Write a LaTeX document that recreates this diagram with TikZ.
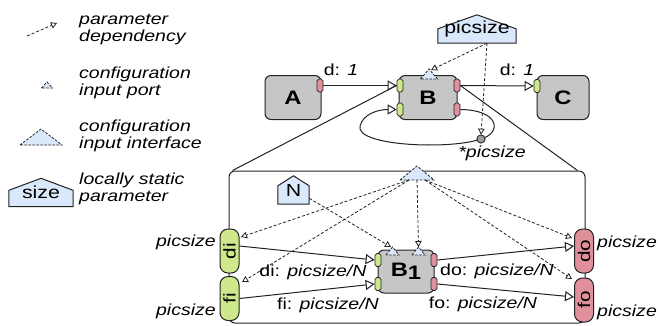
\documentclass[tikz,border=0pt]{standalone}
\usepackage{fontspec}
\setmainfont[FakeStretch=1.22]{Liberation Sans}
\usetikzlibrary{arrows.meta,calc}
\pgfdeclarelayer{bg}
\pgfsetlayers{bg,main}
\definecolor{linec}{HTML}{222222}
\definecolor{boxgray}{HTML}{C6C6C6}
\definecolor{portgreen}{HTML}{CDE98A}
\definecolor{portred}{HTML}{E0909A}
\definecolor{cfgblue}{HTML}{DAE8FC}
\definecolor{dotgray}{HTML}{9C9C9C}
\tikzset{
  block/.style={draw=linec, fill=boxgray, line width=1pt, rounded corners=6pt,
    minimum width=#1, minimum height=44pt, inner sep=0pt,
    font=\fontsize{19.5}{20}\selectfont\bfseries},
  port/.style={draw=linec, fill=#1, line width=0.7pt, rounded corners=1.8pt,
    minimum width=6pt, minimum height=13pt, inner sep=0pt},
  ioport/.style={draw=linec, fill=#1, line width=1pt, rounded corners=8pt,
    minimum width=19pt, minimum height=44pt, inner sep=0pt,
    font=\fontsize{17}{17}\selectfont},
  plain/.style={draw=linec, line width=1pt},
  flow/.style={draw=linec, line width=1pt, -{Triangle[length=9pt,width=10pt,fill=white]}},
  dep/.style={draw=linec, line width=0.8pt, dash pattern=on 3pt off 2pt,
    -{Triangle[open,length=6pt,width=6.5pt]}},
  cfgline/.style={draw=linec, line width=0.8pt, dash pattern=on 2.5pt off 1.5pt, fill=cfgblue},
  houseline/.style={draw=linec, line width=1pt, fill=cfgblue},
  housebox/.style={minimum width=#1, minimum height=28pt, inner sep=0pt,
    font=\fontsize{17.5}{17}\selectfont},
  lbl/.style={inner sep=0pt, font=\fontsize{16}{17}\selectfont},
  legend/.style={align=left, anchor=west, inner sep=0pt,
    font=\fontsize{16}{17}\selectfont\itshape},
  pics/cfgtri/.style 2 args={code={\path[cfgline] (-#1/2,0) -- (0,-#2) -- (#1/2,0) -- cycle;}},
}
\begin{document}
\begin{tikzpicture}[x=1pt,y=-1pt]
\useasboundingbox (0,0) rectangle (658,325);

% ---------- legend ----------
\coordinate (lgs) at (27,36);
\coordinate (lge) at (57,23);
\draw[dep] (lgs) -- (lge);
\node[legend] (lg1) at (79,29) {parameter\\dependency};
\pic at (47,88) {cfgtri={11}{6}};
\node[legend] (lg2) at (79,83) {configuration\\input port};
\pic at (41,145) {cfgtri={42}{16}};
\node[legend] (lg3) at (79,136) {configuration\\input interface};
\node[housebox=64pt] (lgsize) at (41,192.5) {size};
\node[legend] (lg4) at (79,189) {locally static\\parameter};

% ---------- top level graph ----------
\node[block=56pt] (A) at (293,97.5) {A};
\node[block=58pt] (B) at (428,97.5) {B};
\node[block=52pt] (C) at (563,97.5) {C};

\node[port=portred]   (aout)  at (320,85.5) {};
\node[port=portgreen] (bin1)  at (400,85.5) {};
\node[port=portgreen] (bin2)  at (400,109.5) {};
\node[port=portred]   (bout1) at (457,85.5) {};
\node[port=portred]   (bout2) at (457,109.5) {};
\node[port=portgreen] (cin)   at (537,86) {};

\pic at (429,79) {cfgtri={17}{10}};
\coordinate (bcfg) at (431,70);

\node[housebox=78pt] (ps) at (477,29) {\raisebox{-2.5pt}{picsize}};
\coordinate (psfoot) at ([xshift=10pt]ps.south);

\node[circle, draw=linec, fill=dotgray, line width=0.7pt, minimum size=8pt, inner sep=0pt] (dot) at (481,139) {};

\draw[flow] (aout.east) -- (bin1.west);
\draw[flow] (bout1.east) -- (cin.west);
\node[lbl] (dab) at (341,70) {d: \textit{1}};
\node[lbl] (dbc) at (517,70) {d: \textit{1}};

% self loop through the rate dot
\draw[flow] (bout2.east) .. controls (500,110) and (502,133) .. (dot.center)
  .. controls (450,150) and (355,146) .. (360,126)
  .. controls (363,114) and (378,109.5) .. (bin2.west);
\node[circle, draw=linec, fill=dotgray, line width=0.7pt, minimum size=8pt, inner sep=0pt] at (dot) {};
\node[lbl] (star) at (492,153) {\textit{*picsize}};

\draw[dep] (psfoot) -- (bcfg);
\draw[dep] (psfoot) -- (dot.north);

% ---------- refinement of B ----------
\node[draw=linec, line width=1pt, rounded corners=6pt, minimum width=356pt,
  minimum height=152pt, inner sep=0pt] (blk) at (407,247) {};

\pic at (417,180) {cfgtri={34}{14}};
\coordinate (ifcL) at (409,180);
\coordinate (ifcM) at (417,180);
\coordinate (ifcR) at (425,180);

\node[housebox=31pt] (np) at (293.5,190) {N};

\node[ioport=portgreen] (pdi) at (229.5,251) {\rotatebox{90}{di}};
\node[ioport=portgreen] (pfi) at (229.5,298.5) {\rotatebox{90}{fi}};
\node[ioport=portred]   (pdo) at (584,251) {\rotatebox{90}{do}};
\node[ioport=portred]   (pfo) at (584,300) {\rotatebox{90}{fo}};

\node[block=56pt, minimum height=43pt] (B1) at (406,271.5) {B\raisebox{-3.5pt}{1}};
\node[port=portgreen] (b1i1) at (378,260) {};
\node[port=portgreen] (b1i2) at (378,284) {};
\node[port=portred]   (b1o1) at (434,260) {};
\node[port=portred]   (b1o2) at (434,284) {};
\pic at (392.5,255) {cfgtri={13}{8}};
\pic at (418.5,255) {cfgtri={13}{8}};
\coordinate (b1cfgL) at (391,247);
\coordinate (b1cfgR) at (418.5,247);

\draw[flow] ([yshift=5pt]pdi.east) -- (b1i1.west);
\draw[flow] (pfi.east) -- (b1i2.west);
\draw[flow] (b1o1.east) -- ([yshift=5pt]pdo.west);
\draw[flow] (b1o2.east) -- ([yshift=3pt]pfo.west);

\node[lbl] (ldi) at (313,272) {di: \textit{picsize/N}};
\node[lbl] (lfi) at (328,305) {fi: \textit{picsize/N}};
\node[lbl] (ldo) at (497,271) {do: \textit{picsize/N}};
\node[lbl] (lfo) at (483,304) {fo: \textit{picsize/N}};

\node[lbl, anchor=east] (pdil) at (216,242) {\textit{picsize}};
\node[lbl, anchor=east] (pfil) at (216,311) {\textit{picsize}};
\node[lbl, anchor=west] (pdol) at (597,243) {\textit{picsize}};
\node[lbl, anchor=west] (pfol) at (597,312) {\textit{picsize}};

\coordinate (dito)  at (241,237);
\coordinate (fito)  at (242,282);
\coordinate (doto)  at (572,238);
\coordinate (foto)  at (572,279);
\draw[dep] (ifcL) -- (dito);
\draw[dep] (ifcL) -- (fito);
\draw[dep] (ifcM) -- (b1cfgR);
\draw[dep] (ifcR) -- (doto);
\draw[dep] (ifcR) -- (foto);
\draw[dep] ([yshift=6pt]np.south east) -- (b1cfgL);

% ---------- background outlines ----------
\begin{pgfonlayer}{bg}
  \draw[plain] (bin1.west) -- ([xshift=4pt]blk.north west);
  \draw[plain] (bout1.east) -- ([xshift=-8pt]blk.north east);
  \draw[houseline] (ps.south west) -- ([yshift=-14pt]ps.north west) -- (ps.north)
    -- ([yshift=-14pt]ps.north east) -- (ps.south east) -- cycle;
  \draw[houseline] (np.south west) -- ([yshift=-10pt]np.north west) -- (np.north)
    -- ([yshift=-10pt]np.north east) -- (np.south east) -- cycle;
  \draw[houseline] (lgsize.south west) -- ([yshift=-12pt]lgsize.north west) -- (lgsize.north)
    -- ([yshift=-12pt]lgsize.north east) -- (lgsize.south east) -- cycle;
\end{pgfonlayer}
\end{tikzpicture}
\end{document}
